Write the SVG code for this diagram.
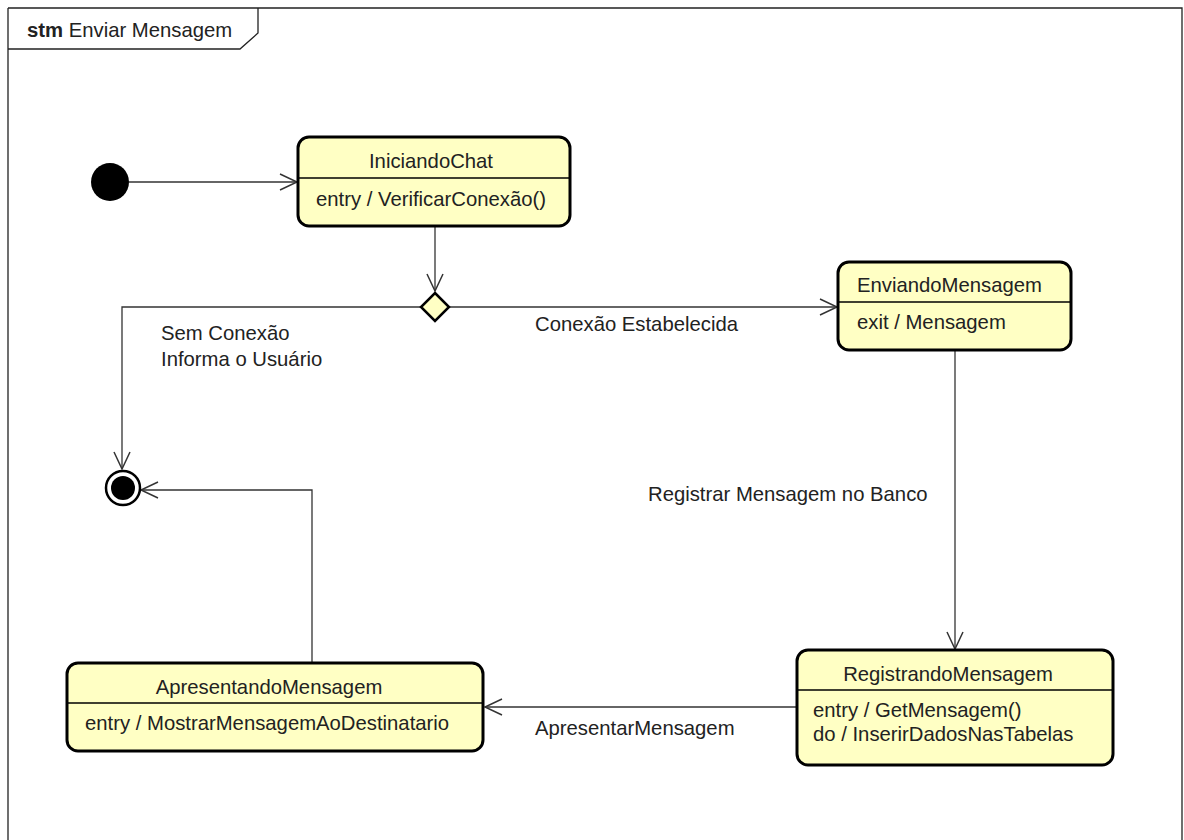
<svg xmlns="http://www.w3.org/2000/svg" width="1184" height="840" viewBox="0 0 1184 840">
  <style>
    text { font-family: "Liberation Sans", Arial, sans-serif; font-size: 20.3px; fill: #222; }
    .state { fill: #ffffc4; stroke: #000; stroke-width: 3; }
    .div { stroke: #000; stroke-width: 1.3; }
    .edge { fill: none; stroke: #333; stroke-width: 1.3; }
    .mid { text-anchor: middle; }
  </style>
  <defs>
    <marker id="open" viewBox="0 0 20 20" refX="18" refY="10" markerWidth="20" markerHeight="20" markerUnits="userSpaceOnUse" orient="auto">
      <path d="M1,2 L18,10 L1,18" fill="none" stroke="#333" stroke-width="1.5"/>
    </marker>
  </defs>
  <rect width="1184" height="840" fill="#fff"/>

  <!-- diagram frame with its name tab -->
  <g id="frame">
    <path d="M8,8 H1182 V840 M8,8 V840" fill="none" stroke="#222" stroke-width="1.3"/>
    <path d="M8,49 H240 L258,33 V8" fill="none" stroke="#222" stroke-width="1.3"/>
    <text x="27" y="37"><tspan font-weight="bold">stm</tspan> Enviar Mensagem</text>
  </g>

  <!-- transitions and their labels -->
  <g id="connectors">
    <path class="edge" d="M129,182 H297" marker-end="url(#open)"/>
    <path class="edge" d="M435,226 V291" marker-end="url(#open)"/>
    <path class="edge" d="M421,307 H122 V469" marker-end="url(#open)"/>
    <path class="edge" d="M449,307 H837" marker-end="url(#open)"/>
    <path class="edge" d="M955,351 V649" marker-end="url(#open)"/>
    <path class="edge" d="M796,707 H485" marker-end="url(#open)"/>
    <path class="edge" d="M312,662 V490 H141" marker-end="url(#open)"/>
    <text x="535" y="331">Conexão Estabelecida</text>
    <text x="161" y="340">Sem Conexão</text>
    <text x="161" y="366">Informa o Usuário</text>
    <text x="648" y="501">Registrar Mensagem no Banco</text>
    <text x="535" y="735">ApresentarMensagem</text>
  </g>

  <g id="initial">
    <circle cx="110" cy="182" r="19" fill="#000"/>
  </g>

  <g id="final">
    <circle cx="123" cy="488" r="17" fill="#fff" stroke="#000" stroke-width="2.5"/>
    <circle cx="123" cy="488" r="12" fill="#000"/>
  </g>

  <g id="decision">
    <path d="M435,293 L449,307 L435,321 L421,307 Z" fill="#ffffc4" stroke="#000" stroke-width="2.5"/>
  </g>

  <g id="IniciandoChat">
    <rect class="state" x="298" y="137" width="272" height="89" rx="11"/>
    <line class="div" x1="298" y1="178" x2="570" y2="178"/>
    <text class="mid" x="431" y="168">IniciandoChat</text>
    <text x="316" y="206">entry / VerificarConexão()</text>
  </g>

  <g id="EnviandoMensagem">
    <rect class="state" x="838" y="262" width="233" height="88" rx="11"/>
    <line class="div" x1="838" y1="302" x2="1071" y2="302"/>
    <text x="857" y="292">EnviandoMensagem</text>
    <text x="857" y="329">exit / Mensagem</text>
  </g>

  <g id="RegistrandoMensagem">
    <rect class="state" x="797" y="650" width="316" height="115" rx="11"/>
    <line class="div" x1="797" y1="690" x2="1113" y2="690"/>
    <text class="mid" x="948" y="681">RegistrandoMensagem</text>
    <text x="813" y="717">entry / GetMensagem()</text>
    <text x="813" y="741">do / InserirDadosNasTabelas</text>
  </g>

  <g id="ApresentandoMensagem">
    <rect class="state" x="67" y="663" width="416" height="88" rx="11"/>
    <line class="div" x1="67" y1="703" x2="483" y2="703"/>
    <text class="mid" x="269" y="694">ApresentandoMensagem</text>
    <text x="85" y="730">entry / MostrarMensagemAoDestinatario</text>
  </g>
</svg>
